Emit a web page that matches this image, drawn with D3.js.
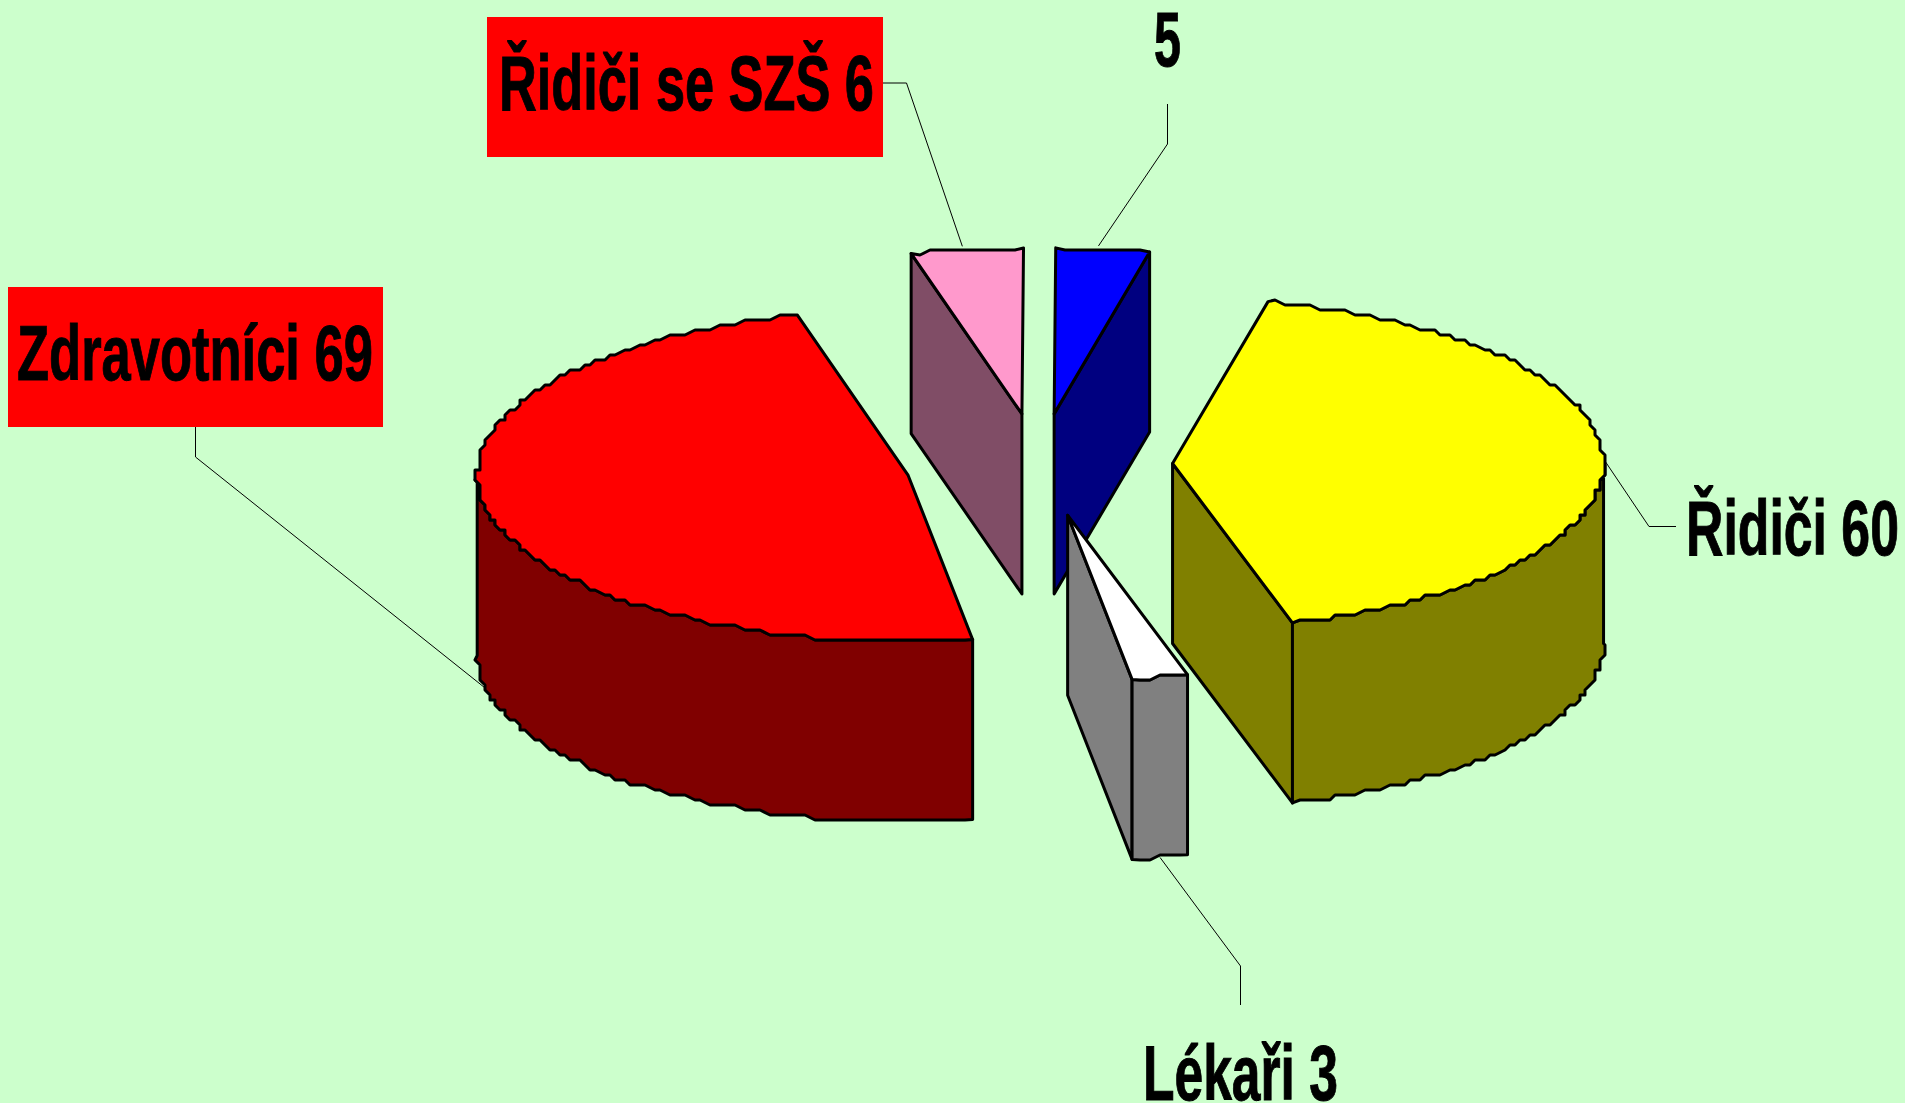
<!DOCTYPE html>
<html>
<head>
<meta charset="utf-8">
<title>Koláčový graf</title>
<script src="https://cdn.jsdelivr.net/npm/d3@7"></script>
<style>
    html, body { margin: 0; padding: 0; background: #CCFFCC; overflow: hidden; }
    svg { display: block; }
    text { font-family: "Liberation Sans", Arial, sans-serif; font-weight: bold; fill: #000; stroke: #000; stroke-width: 1px; }
</style>
</head>
<body>
<div id="chart"></div>
<script>
// Chart data
const labels = ['Zdravotníci 69', 'Řidiči se SZŠ 6', '5', 'Řidiči 60', 'Lékaři 3'];
const values = [69, 6, 5, 60, 3];
const colors = ['#FF0000', '#FF99CC', '#0000FF', '#FFFF00', '#FFFFFF'];
const labelFills = ['#FF0000', '#FF0000', null, null, null];

// Layout
const width = 1905;
const height = 1103;
const cx = 1039, cy = 465;
const rx = 431, ry = 166;
const depth = 180;
const explode = 0.31;
const firstAngle = 171.4 * Math.PI / 180;
const sampleStep = 1.25 * Math.PI / 180;
const snap = 5;   // the original outline is stepped, like a coarse metafile

// Label placement, same order as labels: text box, baseline, leader knee and end
const labelLayout = [
    { x: 17, w: 356, y: 380, box: [8, 287, 375, 140], leader: [[195.5, 457], [195.5, 427]], nudge: [-2, -2] },
    { x: 499, w: 375, y: 110, box: [487, 17, 396, 140], leader: [[906.5, 83], [883, 83]], nudge: [-4.5, -3] },
    { x: 1154, w: 27, y: 66, leader: [[1167.5, 144], [1167.5, 104]], nudge: [-4.5, -3] },
    { x: 1686, w: 213, y: 555, leader: [[1649, 526.5], [1676, 526.5]], nudge: [0, 0] },
    { x: 1143, w: 195, y: 1100, leader: [[1240.5, 966], [1240.5, 1005]], nudge: [0, 0] }
];

const x = d3.scaleLinear().domain([-1, 1]).range([cx - rx, cx + rx]);
const y = d3.scaleLinear().domain([-1, 1]).range([cy - ry, cy + ry]);

const pie = d3.pie().sort(null).startAngle(firstAngle).endAngle(firstAngle + 2 * Math.PI);
const slices = pie(values);

const line = d3.line().x(d => d[0]).y(d => d[1]);
const closed = pts => line(pts) + 'Z';
const snapTo = v => Math.round(v / snap) * snap;
const shift = pts => pts.map(p => [p[0], p[1] + depth]);

function darker(color) {
    const c = d3.rgb(color);
    return d3.rgb(c.r / 2, c.g / 2, c.b / 2).formatHex();
}

// Apex of an exploded slice
function apexOf(d) {
    const mid = (d.startAngle + d.endAngle) / 2;
    return [explode * Math.sin(mid), -explode * Math.cos(mid)];
}

function rimPoint(d, angle) {
    const a = apexOf(d);
    return [x(a[0] + Math.sin(angle)), y(a[1] - Math.cos(angle))];
}

// Stepped rim between two angles, sampled on a shared angle grid so top and wall agree
function rim(d, a0, a1) {
    const pts = [rimPoint(d, a0)];
    const first = Math.ceil(a0 / sampleStep + 0.5);
    const last = Math.floor(a1 / sampleStep - 0.5);
    for (let k = first; k <= last; k++) {
        pts.push(rimPoint(d, k * sampleStep).map(snapTo));
    }
    pts.push(rimPoint(d, a1));
    return pts;
}

const svg = d3.select('#chart')
    .append('svg')
    .attr('width', width)
    .attr('height', height);

svg.append('rect')
    .attr('width', width)
    .attr('height', height)
    .attr('fill', '#CCFFCC');

// Label boxes and leader lines go under the pie
labelLayout.forEach((l, i) => {
    if (l.box && labelFills[i]) {
        svg.append('rect')
            .attr('x', l.box[0]).attr('y', l.box[1])
            .attr('width', l.box[2]).attr('height', l.box[3])
            .attr('fill', labelFills[i]);
    }
});

slices.forEach((d, i) => {
    const mid = (d.startAngle + d.endAngle) / 2;
    const l = labelLayout[i];
    let start = rimPoint(d, mid);
    if (Math.cos(mid) < 0) start = [start[0], start[1] + depth];
    start = [start[0] + l.nudge[0], start[1] + l.nudge[1]];
    svg.append('path')
        .attr('d', line([start].concat(l.leader)))
        .attr('fill', 'none')
        .attr('stroke', '#000')
        .attr('stroke-width', 1);
});

const order = [0, 3, 1, 2, 4];   // the white slice overlaps the blue one
order.forEach(i => {
    const d = slices[i];
    const g = svg.append('g')
        .attr('stroke', '#000')
        .attr('stroke-width', 3)
        .attr('stroke-linejoin', 'round');

    let a0 = d.startAngle, a1 = d.endAngle;
    if (a0 >= 2 * Math.PI - 1e-6) { a0 -= 2 * Math.PI; a1 -= 2 * Math.PI; }

    const a = apexOf(d);
    const apex = [x(a[0]), y(a[1])];
    const side = darker(colors[i]);

    // Cut faces that look towards the viewer
    const faces = [];
    if (-Math.sin(a0) > 0.01) faces.push(rimPoint(d, a0));
    if (Math.sin(a1) > 0.01) faces.push(rimPoint(d, a1));
    faces.forEach(p => {
        const top = [apex, p];
        g.append('path')
            .attr('d', closed(top.concat(shift(top).reverse())))
            .attr('fill', side);
    });

    // Outer wall, front half of the ellipse only
    const w0 = Math.max(a0, Math.PI / 2);
    const w1 = Math.min(a1, 3 * Math.PI / 2);
    if (w1 > w0) {
        const edge = rim(d, w0, w1);
        g.append('path')
            .attr('d', closed(edge.concat(shift(edge).reverse())))
            .attr('fill', side);
    }

    // Top face
    g.append('path')
        .attr('d', closed([apex].concat(rim(d, a0, a1))))
        .attr('fill', colors[i]);
});

// Labels, squeezed to the narrow look of the original
labelLayout.forEach((l, i) => {
    const t = svg.append('text')
        .attr('font-size', 78)
        .text(labels[i]);
    const natural = t.node().getComputedTextLength();
    t.attr('transform', `translate(${l.x},${l.y}) scale(${l.w / natural},1)`);
});
</script>
</body>
</html>
